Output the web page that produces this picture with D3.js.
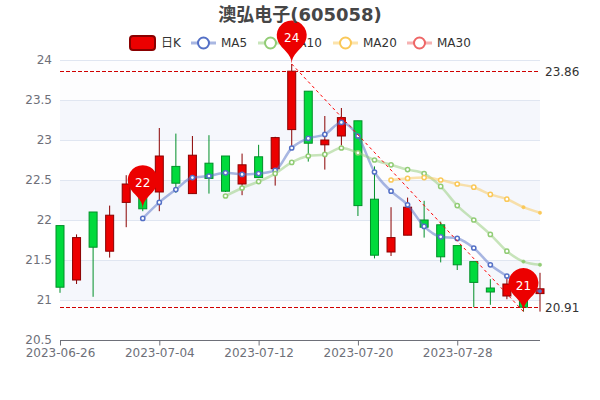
<!DOCTYPE html>
<html><head><meta charset="utf-8">
<style>html,body{margin:0;padding:0;background:#fff}svg{display:block}text{font-family:"DejaVu Sans","Noto Sans CJK SC",sans-serif}</style>
<script src="https://cdn.jsdelivr.net/npm/d3@7/dist/d3.min.js"></script></head>
<body><svg id="c" width="600" height="400"></svg>
<script>
const titleText = "澳弘电子(605058)";
const dates = ["2023-06-26","2023-06-27","2023-06-28","2023-06-29","2023-06-30","2023-07-03","2023-07-04","2023-07-05","2023-07-06","2023-07-07","2023-07-10","2023-07-11","2023-07-12","2023-07-13","2023-07-14","2023-07-17","2023-07-18","2023-07-19","2023-07-20","2023-07-21","2023-07-24","2023-07-25","2023-07-26","2023-07-27","2023-07-28","2023-07-31","2023-08-01","2023-08-02","2023-08-03","2023-08-04"];
const opens  = [21.93,21.25,22.10,21.61,22.22,22.36,22.35,22.67,22.33,22.71,22.80,22.45,22.79,22.64,23.13,23.61,22.94,23.05,23.24,22.26,21.60,21.81,22.00,21.94,21.68,21.48,21.15,21.05,21.18,21.08];
const closes = [21.16,21.78,21.66,22.06,22.45,22.14,22.80,22.46,22.81,22.52,22.36,22.69,22.53,23.03,23.86,22.96,23.00,23.28,22.18,21.56,21.78,22.16,21.91,21.54,21.44,21.22,21.10,21.20,20.91,21.14];
const highs  = [21.93,21.82,22.10,22.18,22.56,22.45,23.15,23.08,23.05,23.06,22.80,22.83,22.94,23.04,23.95,23.61,23.30,23.40,23.24,22.67,22.16,22.28,22.24,21.98,21.68,21.48,21.26,21.29,21.18,21.34];
const lows   = [21.09,21.20,21.04,21.53,21.91,22.11,22.11,22.34,22.33,22.33,22.35,22.31,22.53,22.43,22.90,22.73,22.63,22.93,22.05,21.52,21.55,21.81,21.78,21.47,21.375,20.91,20.94,21.01,20.855,20.855];
const ma5  = [null,null,null,null,null,22.02,22.22,22.38,22.53,22.55,22.59,22.57,22.58,22.62,22.90,23.02,23.07,23.22,23.05,22.60,22.36,22.19,21.92,21.79,21.77,21.65,21.44,21.30,21.18,21.11];
const ma10 = [null,null,null,null,null,null,null,null,null,null,22.30,22.40,22.48,22.58,22.72,22.80,22.82,22.90,22.84,22.75,22.69,22.63,22.58,22.42,22.18,22.00,21.82,21.61,21.48,21.44];
const ma20 = [null,null,null,null,null,null,null,null,null,null,null,null,null,null,null,null,null,null,null,null,22.50,22.52,22.53,22.50,22.45,22.41,22.32,22.26,22.16,22.09];
const yTicks = [20.5,21,21.5,22,22.5,23,23.5,24];
const xTickIdx = [0,6,12,18,24];
const legendNames = ["日K","MA5","MA10","MA20","MA30"];
const maxClose = 23.86, minClose = 20.91;
const pinIdx = [14,5,28];
const pinVal = [23.95,22.14,20.855];
const pinLabels = ["24","22","21"];
const maSeries = [ma5,ma10,ma20];
const maColors = ["#5470C6","#91CC75","#FAC858","#EE6666"];

const svg = d3.select("#c");
const x = d3.scalePoint().domain(d3.range(dates.length)).range([60,540]);
const y = d3.scaleLinear().domain([20.5,24]).range([340,60]);
const up = "#ec0000", upB = "#8A0000", dn = "#00da3c", dnB = "#008F28";

const bands = d3.pairs(yTicks).reverse();
svg.append("g").selectAll("rect").data(bands).join("rect")
  .attr("x",60).attr("width",480)
  .attr("y",d=>y(d[1])).attr("height",d=>y(d[0])-y(d[1]))
  .attr("fill",(d,i)=>i%2?"#f5f7fc":"#fdfdfe");
svg.append("g").selectAll("line").data(yTicks.slice(1)).join("line")
  .attr("x1",60).attr("x2",540).attr("y1",d=>Math.round(y(d))+.5).attr("y2",d=>Math.round(y(d))+.5)
  .attr("stroke","#E0E6F1");
const gy = svg.append("g").attr("transform","translate(60,0)")
  .call(d3.axisLeft(y).tickValues(yTicks).tickSize(0).tickPadding(8).tickFormat(d=>d));
gy.select(".domain").remove();
gy.selectAll("text").attr("fill","#6E7079").attr("font-size",12).style("font-family",'"DejaVu Sans"');
const gx = svg.append("g").attr("transform","translate(0,340.5)")
  .call(d3.axisBottom(x).tickValues(xTickIdx).tickSize(5).tickPadding(3).tickFormat(i=>dates[i]));
gx.select(".domain").attr("stroke","#6E7079").attr("d","M60,0H540");
gx.selectAll("line").attr("stroke","#6E7079");
gx.selectAll("text").attr("fill","#6E7079").attr("font-size",12).style("font-family",'"DejaVu Sans"');

const bw = 8;
const cg = svg.append("g").selectAll("g").data(dates.map((d,i)=>i)).join("g");
cg.append("line").attr("x1",i=>x(i)).attr("x2",i=>x(i))
  .attr("y1",i=>y(highs[i])).attr("y2",i=>y(lows[i]))
  .attr("stroke",i=>closes[i]>=opens[i]?upB:dnB);
cg.append("rect").attr("x",i=>x(i)-bw/2).attr("width",bw)
  .attr("y",i=>y(Math.max(opens[i],closes[i])))
  .attr("height",i=>Math.abs(y(opens[i])-y(closes[i])))
  .attr("fill",i=>closes[i]>=opens[i]?up:dn)
  .attr("stroke",i=>closes[i]>=opens[i]?upB:dnB);

const line = d3.line().defined(d=>d.v!=null).x(d=>x(d.i)).y(d=>y(d.v)).curve(d3.curveMonotoneX);
maSeries.forEach((s,k)=>{
  const pts = s.map((v,i)=>({v,i}));
  const g = svg.append("g");
  g.append("path").attr("d",line(pts)).attr("fill","none").attr("stroke",maColors[k]).attr("stroke-width",2.5).attr("stroke-opacity",.5);
  const last = dates.length-2;
  g.selectAll("circle").data(pts.filter(d=>d.v!=null)).join("circle")
    .attr("cx",d=>x(d.i)).attr("cy",d=>y(d.v)).attr("r",d=>d.i>=last?1.7:2.1)
    .attr("fill",d=>d.i>=last?maColors[k]:"#fff").attr("stroke",maColors[k]).attr("stroke-width",d=>d.i>=last?.5:1.5);
});

const mlColor = "#d00000";
[maxClose,minClose].forEach(v=>{
  svg.append("line").attr("x1",60).attr("x2",540).attr("y1",Math.round(y(v))+.5).attr("y2",Math.round(y(v))+.5)
    .attr("stroke",mlColor).attr("stroke-width",1).attr("stroke-dasharray","4,2");
  svg.append("text").attr("x",545).attr("y",y(v)).attr("dy","0.36em").attr("font-size",12).attr("fill","#333").text(d3.format(".2f")(v));
});
svg.append("line").attr("x1",x(pinIdx[0])).attr("y1",y(pinVal[0])).attr("x2",x(pinIdx[2])).attr("y2",y(pinVal[2]))
  .attr("stroke","#f00").attr("stroke-width",1).attr("stroke-dasharray","3,3");

const lg = svg.append("g");
lg.append("rect").attr("x",130).attr("y",36).attr("width",25).attr("height",14).attr("rx",3)
  .attr("fill",up).attr("stroke",upB).attr("stroke-width",2);
const legendX = [191,258,333,407];
lg.append("text").attr("x",161).attr("y",43).attr("dy","0.36em").attr("font-size",12).attr("fill","#333").text(legendNames[0]);
legendX.forEach((lx,k)=>{
  lg.append("line").attr("x1",lx).attr("x2",lx+25).attr("y1",43).attr("y2",43).attr("stroke",maColors[k]).attr("stroke-width",3).attr("stroke-opacity",.5);
  lg.append("circle").attr("cx",lx+12.5).attr("cy",43).attr("r",5.5).attr("fill","#fff").attr("stroke",maColors[k]).attr("stroke-width",2);
  lg.append("text").attr("x",lx+30).attr("y",43).attr("dy","0.36em").attr("font-size",12).attr("fill","#333").text(legendNames[k+1]);
});

function pinPath(px,py,w0,h0){
  const w=w0/5*3, h=Math.max(w,h0), r=w/2, dy=r*r/(h-r), cy=py-h+r+dy, ang=Math.asin(dy/r),
        dx=Math.cos(ang)*r, tx=Math.sin(ang), ty=Math.cos(ang), c1=r*.6, c2=r*.7;
  const p=d3.path();
  p.moveTo(px-dx,cy+dy);
  p.arc(px,cy,r,Math.PI-ang,Math.PI*2+ang);
  p.bezierCurveTo(px+dx-tx*c1,cy+dy+ty*c1,px,py-c2,px,py);
  p.bezierCurveTo(px,py-c2,px-dx+tx*c1,cy+dy+ty*c1,px-dx,cy+dy);
  p.closePath();
  return p.toString();
}
pinIdx.forEach((i,k)=>{
  const px=x(i),py=y(pinVal[k]);
  svg.append("path").attr("d",pinPath(px,py,50,50)).attr("fill","#ec0000");
  svg.append("text").attr("x",px).attr("y",py-26).attr("dy","0.36em").attr("text-anchor","middle").attr("font-size",12).attr("fill","#fff").text(pinLabels[k]);
});

svg.append("text").attr("x",300).attr("y",14.5).attr("dy","0.36em").attr("text-anchor","middle").attr("font-size",18).attr("font-weight","bold").attr("fill","#464646").text(titleText);
</script></body></html>
